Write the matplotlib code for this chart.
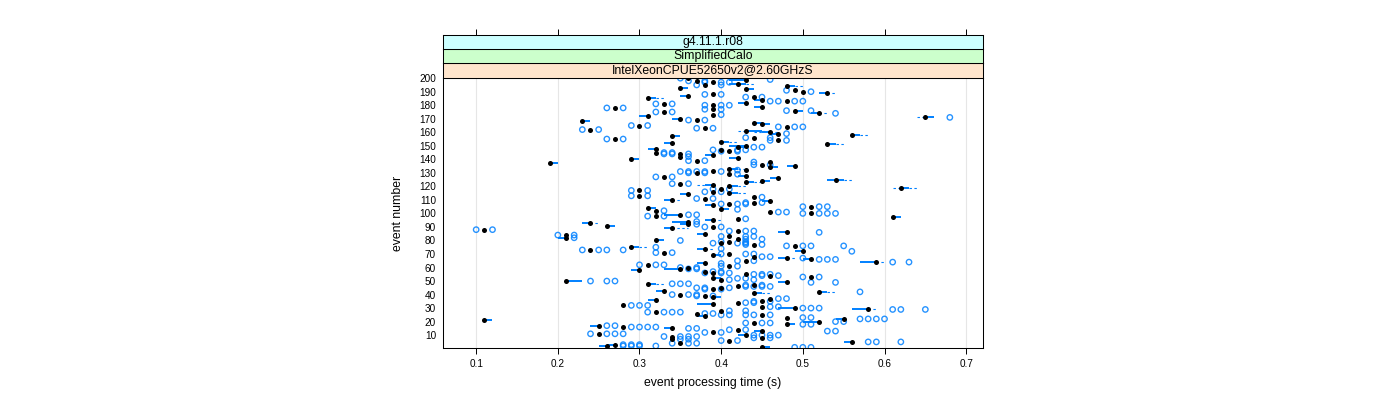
import numpy as np
import matplotlib.pyplot as plt

plt.rcParams['font.family'] = ['Liberation Sans', 'DejaVu Sans']

# event numbers 1..200
event = np.arange(1, 201)

# median time per event (s)
median = [
    .45, .26, .27, .35, .56, .41, .34, .45, .34, .43,
    .25, .39, .45, .42, .34, .28, .25, .48, .44, .52,
    .11, .55, .48, .38, .45, .37, .32, .40, .58, .49,
    .45, .28, .39, .42, .45, .32, .46, .39, .38, .35,
    .44, .52, .33, .39, .40, .42, .44, .31, .48, .21,
    .40, .39, .51, .46, .43, .39, .38, .30, .35, .36,
    .41, .31, .38, .59, .43, .51, .48, .44, .39, .41,
    .33, .50, .24, .38, .29, .49, .44, .40, .41, .32,
    .42, .21, .41, .21, .38, .48, .42, .11, .34, .39,
    .26, .36, .24, .36, .39, .42, .61, .32, .35, .51,
    .46, .32, .40, .31, .51, .39, .41, .44, .46, .34,
    .38, .44, .30, .36, .41, .39, .30, .40, .62, .41,
    .39, .35, .43, .45, .54, .47, .33, .43, .41, .37,
    .39, .43, .41, .46, .49, .45, .19, .46, .37, .29,
    .42, .35, .39, .35, .32, .41, .40, .32, .42, .43,
    .53, .34, .40, .47, .27, .44, .34, .56, .47, .46,
    .43, .24, .38, .48, .30, .45, .44, .23, .37, .35,
    .65, .31, .39, .52, .33, .49, .39, .27, .45, .39,
    .33, .43, .48, .45, .31, .44, .36, .39, .53, .50,
    .49, .43, .35, .48, .38, .42, .39, .37, .43, .36,
]

# lower hinge
q1 = [
    .45, .25, .26, .35, .55, .41, .34, .45, .34, .42,
    .25, .39, .44, .42, .33, .28, .24, .48, .44, .50,
    .11, .54, .48, .37, .45, .37, .32, .40, .56, .47,
    .45, .28, .37, .42, .45, .31, .46, .39, .38, .35,
    .44, .52, .32, .39, .40, .42, .44, .31, .47, .21,
    .40, .39, .51, .46, .43, .39, .38, .29, .33, .36,
    .41, .31, .37, .57, .43, .50, .47, .44, .39, .41,
    .33, .49, .24, .37, .29, .49, .44, .40, .41, .32,
    .42, .20, .41, .21, .37, .47, .42, .11, .33, .39,
    .26, .35, .23, .34, .38, .42, .61, .32, .33, .51,
    .46, .32, .40, .31, .51, .38, .41, .44, .45, .33,
    .38, .44, .30, .35, .41, .39, .30, .40, .62, .41,
    .38, .35, .43, .45, .53, .46, .33, .42, .41, .37,
    .39, .43, .41, .46, .48, .45, .19, .46, .37, .29,
    .41, .35, .38, .35, .32, .41, .40, .31, .42, .41,
    .53, .33, .40, .47, .27, .44, .34, .56, .46, .45,
    .43, .24, .38, .48, .30, .45, .44, .23, .37, .34,
    .65, .30, .39, .51, .33, .49, .39, .27, .44, .39,
    .33, .42, .48, .44, .31, .44, .35, .39, .52, .50,
    .49, .43, .35, .48, .38, .41, .39, .37, .41, .36,
]

# upper hinge
q3 = [
    .46, .26, .27, .35, .56, .41, .34, .45, .34, .43,
    .25, .39, .45, .42, .34, .28, .25, .49, .44, .52,
    .12, .55, .48, .38, .45, .37, .32, .40, .58, .49,
    .45, .28, .39, .42, .45, .32, .46, .40, .38, .35,
    .45, .53, .33, .39, .40, .42, .44, .32, .48, .23,
    .40, .40, .51, .46, .43, .39, .38, .30, .35, .36,
    .41, .31, .38, .59, .43, .51, .48, .44, .40, .41,
    .33, .50, .24, .38, .30, .49, .44, .40, .41, .33,
    .42, .21, .41, .21, .38, .48, .42, .11, .34, .39,
    .27, .36, .24, .36, .39, .42, .62, .32, .35, .51,
    .46, .32, .41, .32, .51, .39, .41, .44, .46, .34,
    .38, .44, .30, .36, .42, .39, .30, .40, .63, .42,
    .39, .35, .44, .46, .55, .47, .33, .43, .41, .37,
    .39, .43, .42, .47, .49, .45, .20, .46, .37, .30,
    .42, .35, .39, .35, .32, .41, .40, .32, .43, .43,
    .54, .34, .41, .47, .27, .44, .35, .57, .47, .46,
    .45, .24, .38, .48, .30, .46, .45, .24, .37, .35,
    .66, .31, .39, .52, .33, .50, .39, .27, .45, .39,
    .33, .43, .48, .45, .32, .44, .36, .39, .53, .50,
    .49, .44, .36, .49, .38, .43, .39, .37, .43, .36,
]

# whisker ends that reach beyond the hinges
whisker_low = {119: .61, 121: .37, 160: .44, 161: .42, 171: .64}
whisker_high = {29: .59, 41: .46, 42: .54, 48: .33, 64: .60, 67: .49, 74: .39,
                75: .31, 89: .36, 93: .25, 95: .40, 110: .35, 115: .43, 119: .64,
                120: .43, 123: .45, 125: .56, 133: .43, 151: .55, 153: .42,
                158: .58, 160: .47, 161: .46, 174: .53, 185: .33, 189: .54,
                194: .50, 196: .44}

# outlying samples per event
outliers = {
    1: [.49, .50, .51], 2: [.28, .29, .30, .32], 3: [.28, .29, .30], 4: [.34, .36, .37],
    5: [.58, .59, .62], 6: [.40, .42], 7: [.35, .36], 8: [.44, .46], 9: [.33, .35, .36, .37],
    10: [.44, .45, .46, .47], 11: [.24, .26, .27, .28], 12: [.38, .40], 13: [.53, .54],
    14: [.41, .43], 15: [.36, .37], 16: [.29, .30, .31, .32], 17: [.26, .27], 18: [.50, .51],
    19: [.43, .45, .46], 20: [.54, .55], 22: [.57, .58, .59, .60], 23: [.50, .51],
    25: [.40, .41, .43, .44, .46], 26: [.38, .39], 27: [.31, .33, .34, .35], 28: [.41, .43],
    29: [.61, .62, .65], 30: [.50, .51, .52], 31: [.46, .47], 32: [.29, .30, .31],
    34: [.43, .44], 35: [.44, .46], 37: [.47, .48], 39: [.37, .39], 40: [.34, .36, .37],
    42: [.57], 44: [.38, .40], 45: [.37, .38, .41], 46: [.43, .44, .45, .46], 47: [.43, .45],
    48: [.34, .35, .36], 49: [.51, .54], 50: [.24, .26, .27], 51: [.41, .44], 52: [.42, .43],
    53: [.50, .52], 54: [.45, .47], 55: [.44, .45, .46], 56: [.38, .40, .41], 57: [.39, .40],
    59: [.36, .37], 60: [.35, .37], 61: [.40, .42], 62: [.30, .32, .33], 63: [.40],
    64: [.61, .63], 65: [.42, .44], 66: [.52, .53, .54], 67: [.50], 68: [.45, .46],
    70: [.40, .43, .44], 71: [.32, .34], 72: [.56], 73: [.23, .25, .26, .28], 74: [.40],
    75: [.32], 76: [.48, .50, .51, .55], 77: [.43, .45], 78: [.39, .42, .43], 79: [.40, .43],
    80: [.35], 81: [.43, .45], 82: [.22], 83: [.40, .43, .44], 84: [.20, .22], 86: [.52],
    87: [.41, .43, .44], 88: [.10, .12], 90: [.38, .40], 92: [.37], 94: [.37], 96: [.43],
    98: [.31, .33], 99: [.36, .37], 100: [.50, .52, .53, .54], 101: [.47, .48], 102: [.33],
    103: [.42], 105: [.50, .52, .53], 107: [.40, .42, .43], 108: [.43, .45], 111: [.37, .39],
    112: [.45], 113: [.29, .31], 116: [.38, .40], 117: [.29, .31], 118: [.39, .41],
    122: [.34, .36], 127: [.32, .34], 129: [.42], 130: [.36, .38],
    131: [.35, .36, .37, .38, .40], 132: [.42], 136: [.44, .46], 138: [.44], 139: [.36, .38],
    142: [.36], 144: [.33, .34, .36], 145: [.33, .34], 146: [.40, .42], 147: [.39, .42, .43],
    149: [.44, .45], 154: [.46, .48], 155: [.26, .28], 156: [.43, .46], 159: [.48],
    162: [.23, .25], 163: [.37, .39], 164: [.47, .49, .50], 165: [.29, .31], 169: [.36, .38],
    171: [.68], 173: [.40], 174: [.54], 175: [.32, .34], 176: [.48, .51], 177: [.38, .40],
    178: [.26, .28], 180: [.38, .40, .41], 181: [.32, .34], 183: [.46, .47, .49, .50],
    186: [.43, .45], 188: [.38, .40], 190: [.51], 191: [.48], 195: [.37, .40],
    197: [.38, .40, .41], 198: [.36, .38], 199: [.46], 200: [.35],
}

strip_labels = ['IntelXeonCPUE52650v2@2.60GHzS', 'SimplifiedCalo', 'g4.11.1.r08']
strip_colors = ['#ffe5cc', '#ccffcc', '#ccffff']
x_ticks = [0.1, 0.2, 0.3, 0.4, 0.5, 0.6, 0.7]
y_ticks = list(range(10, 201, 10))

blue = '#0080ff'
xlim = (0.0594, 0.7206)

fig = plt.figure(figsize=(14, 4), dpi=100)
W, H = 1400, 400
px = lambda x0, y0, x1, y1: [x0 / W, 1 - y1 / H, (x1 - x0) / W, (y1 - y0) / H]

ax = fig.add_axes(px(443, 77.5, 983, 348))
ax.set_xlim(*xlim)
ax.set_ylim(0.5, 200.5)

# grid
for t in x_ticks:
    ax.axvline(t, color='#e6e6e6', lw=0.8, zorder=0)

q1a = np.array(q1)
q3a = np.array(q3)
wlo = np.array([whisker_low.get(e, q1a[i]) for i, e in enumerate(event)])
whi = np.array([whisker_high.get(e, q3a[i]) for i, e in enumerate(event)])

# boxes (thin rows, so drawn as thick segments)
ax.hlines(event, q1a, q3a, color=blue, lw=1.4, capstyle='butt', zorder=2)
# whiskers
m = wlo < q1a
ax.hlines(event[m], wlo[m], q1a[m], color=blue, lw=0.8, linestyles=(0, (2.2, 2.2)), zorder=2)
m = whi > q3a
ax.hlines(event[m], q3a[m], whi[m], color=blue, lw=0.8, linestyles=(0, (2.2, 2.2)), zorder=2)

# outliers
ox = [v for e in outliers for v in outliers[e]]
oy = [e for e in outliers for v in outliers[e]]
ax.scatter(ox, oy, s=15, facecolors='none', edgecolors=blue, linewidths=1.0,
           alpha=0.85, zorder=3)

# medians
ax.scatter(median, event, s=13, color='black', linewidths=0, zorder=4)

ax.set_xticks(x_ticks)
ax.set_xticklabels([f'{t:.1f}' for t in x_ticks])
ax.set_yticks(y_ticks)
ax.tick_params(axis='x', direction='out', length=4, width=0.7, pad=4, labelsize=7.2)
ax.tick_params(axis='y', length=0, pad=5, labelsize=7.2)
for s in ax.spines.values():
    s.set_linewidth(0.75)

fig.text((443 + 983) / 2 / W, 1 - 383 / H, 'event processing time (s)',
         ha='center', va='center', fontsize=8.8)
fig.text(398 / W, 1 - 213 / H, 'event number', rotation=90,
         ha='center', va='center', fontsize=8.8)

# strips
tops = [77.5, 63.2, 48.9, 34.6]
for i, (lab, col) in enumerate(zip(strip_labels, strip_colors)):
    sax = fig.add_axes(px(443, tops[i + 1], 983, tops[i]))
    sax.set_facecolor(col)
    sax.set_xlim(*xlim)
    sax.set_yticks([])
    sax.text(0.5, 0.5, lab, transform=sax.transAxes, ha='center', va='center',
             fontsize=8.8)
    for s in sax.spines.values():
        s.set_linewidth(0.75)
    if i == 2:
        sax.xaxis.tick_top()
        sax.set_xticks(x_ticks)
        sax.tick_params(axis='x', direction='out', length=4, width=0.7,
                        labeltop=False)
    else:
        sax.set_xticks([])

fig.savefig('out.png', dpi=100)
